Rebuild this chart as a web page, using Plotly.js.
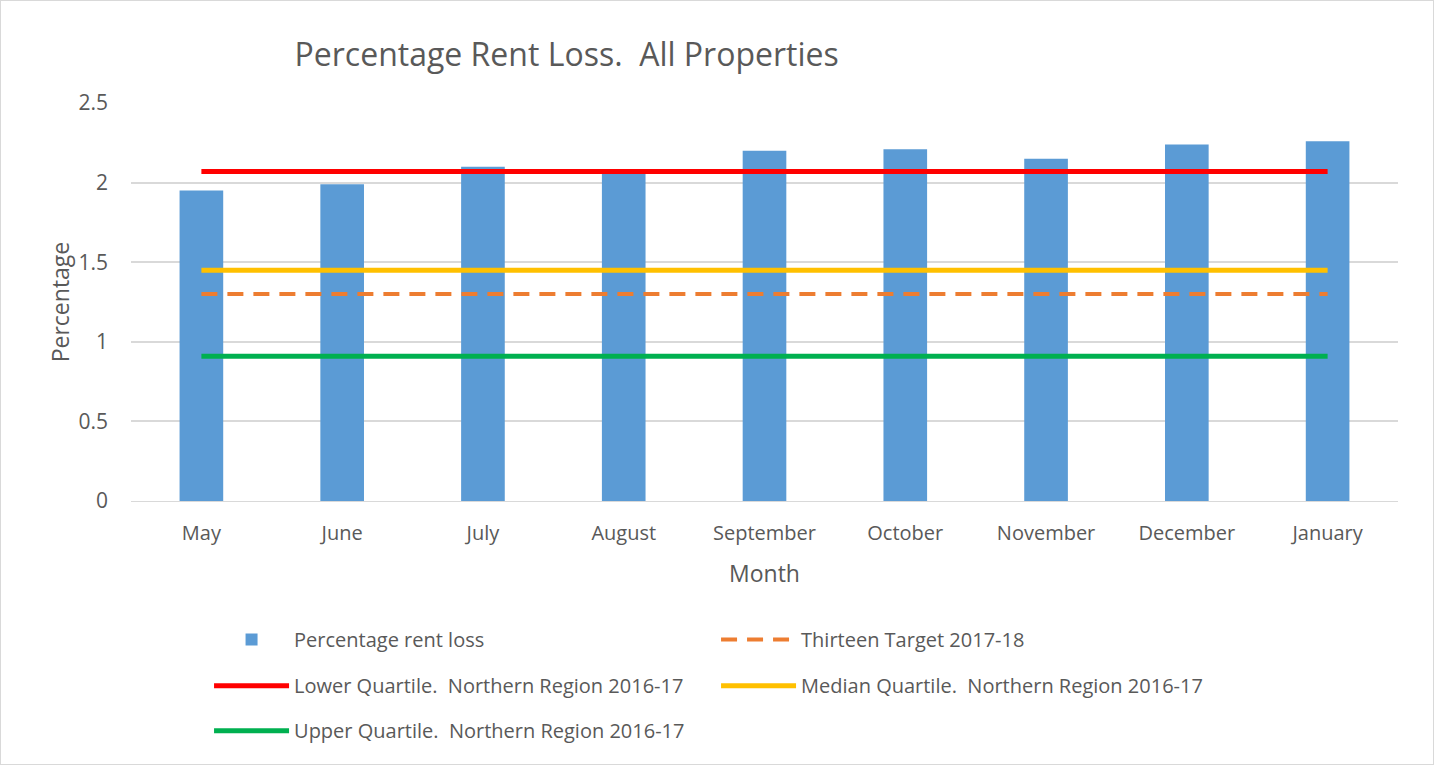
<!DOCTYPE html>
<html><head><meta charset="utf-8">
<script src="https://cdn.plot.ly/plotly-3.0.1.min.js"></script>
<style>html,body{margin:0;padding:0;background:#fff}#chart{width:1434px;height:765px;box-sizing:border-box;border:1px solid #d9d9d9}</style>
</head><body><div id="chart"></div>
<script>
const months = ["May","June","July","August","September","October","November","December","January"];
const rentLoss = [1.95,1.99,2.10,2.07,2.20,2.21,2.15,2.24,2.26];
const thirteenTarget = [1.30,1.30,1.30,1.30,1.30,1.30,1.30,1.30,1.30];
const lowerQuartile = [2.07,2.07,2.07,2.07,2.07,2.07,2.07,2.07,2.07];
const medianQuartile = [1.45,1.45,1.45,1.45,1.45,1.45,1.45,1.45,1.45];
const upperQuartile = [0.91,0.91,0.91,0.91,0.91,0.91,0.91,0.91,0.91];

const font = "Open Sans, Liberation Sans, sans-serif";
const traces = [
  {type:"bar", x:months, y:rentLoss, name:"Percentage rent loss", marker:{color:"#5b9bd5"}, width:0.31, legend:"legend"},
  {type:"scatter", mode:"lines", x:months, y:thirteenTarget, name:"Thirteen Target 2017-18", line:{color:"#ed7d31", width:4, dash:"16px,10px"}, legend:"legend"},
  {type:"scatter", mode:"lines", x:months, y:lowerQuartile, name:"Lower Quartile.  Northern Region 2016-17", line:{color:"#ff0000", width:5}, legend:"legend2"},
  {type:"scatter", mode:"lines", x:months, y:medianQuartile, name:"Median Quartile.  Northern Region 2016-17", line:{color:"#ffc000", width:5}, legend:"legend2"},
  {type:"scatter", mode:"lines", x:months, y:upperQuartile, name:"Upper Quartile.  Northern Region 2016-17", line:{color:"#00b050", width:5}, legend:"legend3"}
];
function leg(y){
  return {orientation:"h", x:0.0616, xanchor:"left", y:y, yanchor:"top", traceorder:"normal", entrywidth:417, entrywidthmode:"pixels", font:{size:20, color:"#595959", family:font}, itemwidth:75, bgcolor:"rgba(0,0,0,0)"};
}
const layout = {
  width:1432, height:763,
  margin:{l:130, r:35, t:102, b:263},
  paper_bgcolor:"#fff", plot_bgcolor:"#fff",
  font:{family:font, color:"#595959", size:20},
  title:{text:"Percentage Rent Loss.  All Properties", x:0.205, xanchor:"left", y:0.93, yanchor:"middle", font:{size:32, color:"#595959", family:font}},
  xaxis:{title:{text:"Month", font:{size:23}, standoff:20}, showgrid:false, showline:true, linecolor:"#d9d9d9", linewidth:1, ticks:"", ticklabelstandoff:14, tickfont:{size:20}},
  yaxis:{title:{text:"Percentage", font:{size:23}, standoff:2}, range:[0,2.5], dtick:0.5, showgrid:true, gridcolor:"#d9d9d9", gridwidth:1.5, zeroline:false, showline:false, ticks:"", ticklabelstandoff:22, tickfont:{size:21}, tickformat:"~g"},
  showlegend:true,
  legend:leg(-0.299),
  legend2:leg(-0.415),
  legend3:leg(-0.528)
};
Plotly.newPlot("chart", traces, layout, {displayModeBar:false});
</script></body></html>
